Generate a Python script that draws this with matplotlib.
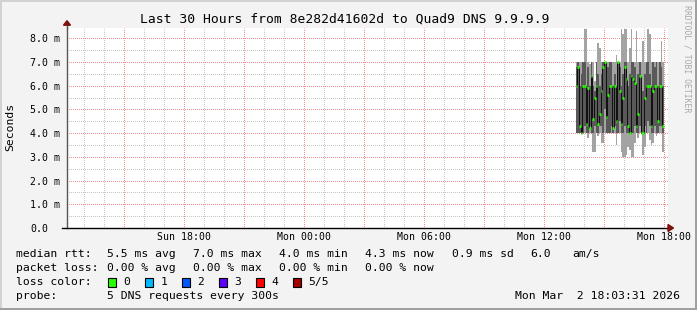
import matplotlib
matplotlib.use('Agg')
import matplotlib.pyplot as plt
import numpy as np
from matplotlib.patches import Rectangle, Polygon
from matplotlib.ticker import MultipleLocator

# ---------------- data ----------------
step_hours = 5 / 60.0
start_hour = 13 + 35 / 60.0          # Mon 13:35 (hours relative to Mon 00:00)

median_ms = [6.0, 6.8, 4.3, 4.0, 6.0, 6.0, 4.4, 5.9, 4.2, 6.4,
             4.6, 5.5, 6.0, 4.4, 4.8, 5.8, 6.8, 7.0, 4.7, 5.6,
             6.0, 6.0, 4.2, 6.0, 4.5, 7.0, 5.8, 4.4, 5.5, 6.8,
             6.3, 4.3, 4.0, 6.4, 6.3, 6.1, 4.3, 4.8, 6.4, 4.0,
             4.0, 5.5, 6.0, 6.0, 6.0, 4.3, 5.8, 6.0, 6.0, 4.5,
             6.0, 6.0, 4.3]
max_ms = [7.0, 7.0, 7.0, 7.0, 7.0, 8.4, 8.4, 7.0, 6.9, 7.0,
          7.0, 6.2, 7.0, 7.8, 7.6, 7.0, 7.0, 7.0, 7.0, 7.0,
          7.0, 7.0, 7.0, 7.0, 7.3, 7.0, 7.0, 8.4, 8.2, 8.4,
          8.4, 7.0, 7.6, 8.4, 7.0, 7.0, 8.3, 7.0, 7.0, 7.0,
          7.9, 7.0, 7.0, 8.4, 8.2, 7.0, 7.0, 7.0, 7.0, 7.0,
          7.0, 7.9, 7.0]
min_ms = [4.0, 4.0, 4.0, 4.0, 4.0, 4.0, 4.0, 3.8, 4.0, 4.0,
          3.2, 3.2, 4.0, 3.9, 4.0, 3.6, 3.6, 4.0, 4.0, 4.0,
          4.0, 4.0, 4.0, 4.0, 3.5, 4.0, 4.0, 3.2, 3.0, 3.0,
          3.1, 3.4, 3.3, 3.0, 3.0, 3.6, 4.0, 3.8, 4.0, 4.0,
          3.1, 3.4, 4.0, 4.0, 3.7, 3.5, 3.6, 4.0, 3.9, 4.0,
          4.0, 4.0, 3.2]
lo_ms = [4.0, 4.0, 4.0, 4.0, 4.0, 4.3, 4.0, 4.0, 4.3, 4.0,
         4.0, 4.3, 4.0, 4.0, 4.3, 4.3, 4.0, 5.0, 4.0, 4.0,
         4.0, 4.3, 4.0, 4.3, 4.0, 4.0, 4.5, 4.0, 4.0, 4.3,
         4.0, 4.0, 4.0, 4.3, 4.0, 4.3, 4.0, 4.0, 4.3, 4.0,
         4.0, 4.3, 4.0, 4.5, 4.3, 4.0, 4.0, 4.3, 4.0, 4.0,
         4.3, 4.3, 4.0]
hi_ms = [6.8, 7.0, 6.0, 6.5, 7.0, 7.0, 6.0, 6.8, 6.0, 7.0,
         6.0, 5.8, 7.0, 6.5, 6.0, 6.5, 7.0, 7.0, 6.0, 6.8,
         7.0, 7.0, 6.0, 6.5, 6.0, 7.0, 6.8, 6.0, 6.5, 7.0,
         7.0, 6.0, 6.5, 7.0, 7.0, 6.8, 6.0, 6.5, 7.0, 6.0,
         5.8, 6.5, 7.0, 7.0, 6.5, 6.0, 7.0, 6.8, 7.0, 6.0,
         7.0, 6.8, 6.0]

x_label_hours = [-6, 0, 6, 12, 18]
x_tick_labels = ['Sun 18:00', 'Mon 00:00', 'Mon 06:00', 'Mon 12:00', 'Mon 18:00']
y_ticks = [0, 1, 2, 3, 4, 5, 6, 7, 8]
y_tick_labels = ['0.0', '1.0 m', '2.0 m', '3.0 m', '4.0 m', '5.0 m', '6.0 m', '7.0 m', '8.0 m']

title = 'Last 30 Hours from 8e282d41602d to Quad9 DNS 9.9.9.9'
rtt_items = ['5.5 ms avg', '7.0 ms max', '4.0 ms min', '4.3 ms now', '0.9 ms sd', '6.0', 'am/s']
loss_items = ['0.00 % avg', '0.00 % max', '0.00 % min', '0.00 % now']
loss_labels = ['0', '1', '2', '3', '4', '5/5']
loss_colors = ['#26ff00', '#00b8ff', '#0059ff', '#5e00ff', '#ff0000', '#a10000']
probe_text = '5 DNS requests every 300s'
date_text = 'Mon Mar  2 18:03:31 2026'

# ---------------- layout ----------------
W, H = 697, 310
DPI = 100
MONO = 'DejaVu Sans Mono'

fig = plt.figure(figsize=(W / DPI, H / DPI), dpi=DPI)
fig.patch.set_facecolor('#f3f3f3')

def fx(x):
    return x / W

def fy(y):
    return 1 - y / H

# frame
fig.add_artist(Rectangle((0, 0), 1, 2 / H, transform=fig.transFigure, color='#a0a0a0', lw=0))
fig.add_artist(Rectangle((1 - 2 / W, 0), 2 / W, 1, transform=fig.transFigure, color='#a0a0a0', lw=0))
fig.add_artist(Rectangle((0, 1 - 2 / H), 1 - 2 / W, 2 / H, transform=fig.transFigure, color='#d2d2d2', lw=0))
fig.add_artist(Rectangle((0, 2 / H), 2 / W, 1 - 4 / H, transform=fig.transFigure, color='#d2d2d2', lw=0))

ax_l, ax_r, ax_t, ax_b = 67, 668, 27.7, 228
ax = fig.add_axes([fx(ax_l), fy(ax_b), (ax_r - ax_l) / W, (ax_b - ax_t) / H])
ax.set_facecolor('white')
ax.set_xlim(-11.85, 18.2)
ax.set_ylim(0, 8.45)

for s in ['top', 'right', 'bottom']:
    ax.spines[s].set_visible(False)
ax.spines['left'].set_color('#555555')
ax.spines['left'].set_linewidth(1.0)

# grid (1px dots)
ax.xaxis.set_minor_locator(MultipleLocator(1))
ax.yaxis.set_minor_locator(MultipleLocator(0.5))
ax.grid(which='minor', color='#c6c6c6', linestyle=(0.5, (1, 1)), linewidth=0.72)
ax.grid(which='major', color='#f38e8e', linestyle=(0.5, (1, 1)), linewidth=0.72)
ax.set_axisbelow(True)

major_x = np.arange(-9, 19, 3)
ax.set_xticks(major_x)
ax.set_xticklabels([x_tick_labels[x_label_hours.index(h)] if h in x_label_hours else '' for h in major_x],
                   fontfamily=MONO, fontsize=7.1)
ax.set_yticks(y_ticks)
ax.set_yticklabels(y_tick_labels, fontfamily=MONO, fontsize=7.1, ha='left')
ax.tick_params(axis='x', which='both', length=0, pad=3)
ax.tick_params(axis='y', which='both', length=0, pad=26.6)

# data
n = len(median_ms)
t = start_hour + np.arange(n) * step_hours
mn = np.array(min_ms); mx = np.array(max_ms)
lo = np.array(lo_ms); hi = np.array(hi_ms)
md = np.array(median_ms)
ax.bar(t, mx - mn, bottom=mn, width=step_hours, align='edge', color='#a3a3a3', linewidth=0, zorder=2)
ax.bar(t, hi - lo, bottom=lo, width=step_hours, align='edge', color='#595959', linewidth=0, zorder=3)
ax.vlines(t[1:], md[:-1], md[1:], color='#111111', linewidth=0.72, zorder=4)
ax.hlines(md, t, t + step_hours, color=loss_colors[0], linewidth=2.0, zorder=5)

# axis lines and arrows
ax.plot([-5 / 601, 1.0], [0, 0], transform=ax.transAxes, color='black', lw=1.0, clip_on=False, zorder=6)
ax.plot([0, 0], [1.0, 1.0 + 3 / 200.3], transform=ax.transAxes, color='#555555', lw=1.0, clip_on=False, zorder=6)
arrow_col = '#7f1010'
ax.add_patch(Polygon([[-3.5 / 601, 1 + 2.5 / 200.3], [3.5 / 601, 1 + 2.5 / 200.3], [0, 1 + 7 / 200.3]],
                     closed=True, transform=ax.transAxes, color=arrow_col, clip_on=False, zorder=7))
ax.add_patch(Polygon([[1.0, 3.5 / 200.3], [1.0, -3.5 / 200.3], [1 + 5.5 / 601, 0]],
                     closed=True, transform=ax.transAxes, color=arrow_col, clip_on=False, zorder=7))

# texts
fig.text(fx(345), fy(19.3), title, ha='center', va='center', fontfamily=MONO, fontsize=9.4, color='#000000')
fig.text(fx(10), fy(127), 'Seconds', rotation=90, ha='center', va='center', fontfamily=MONO, fontsize=8.2)
fig.text(fx(687), fy(5), 'RRDTOOL / TOBI OETIKER', rotation=270, ha='center', va='top',
         fontfamily=MONO, fontsize=5.9, color='#a8a8a8')

LS = 8.2
row_y = [254.3, 268.3, 282.0, 296.0]
fig.text(fx(16), fy(row_y[0]), 'median rtt:', ha='left', va='center', fontfamily=MONO, fontsize=LS)
rtt_x = [107.3, 193.3, 279.3, 365.0, 451.7, 530.0, 572.7]
for x, s in zip(rtt_x, rtt_items):
    fig.text(fx(x), fy(row_y[0]), s, ha='left', va='center', fontfamily=MONO, fontsize=LS)
fig.text(fx(16), fy(row_y[1]), 'packet loss:', ha='left', va='center', fontfamily=MONO, fontsize=LS)
for x, s in zip(rtt_x[:4], loss_items):
    fig.text(fx(x), fy(row_y[1]), s, ha='left', va='center', fontfamily=MONO, fontsize=LS)
fig.text(fx(16), fy(row_y[2]), 'loss color:', ha='left', va='center', fontfamily=MONO, fontsize=LS)
for i, (lab, col) in enumerate(zip(loss_labels, loss_colors)):
    bx = 108.3 + i * 37.0
    fig.add_artist(Rectangle((fx(bx), fy(287)), 7.7 / W, 9.5 / H, transform=fig.transFigure,
                             facecolor=col, edgecolor='black', lw=0.8))
    fig.text(fx(bx + 15), fy(row_y[2]), lab, ha='left', va='center', fontfamily=MONO, fontsize=LS)
fig.text(fx(16), fy(row_y[3]), 'probe:', ha='left', va='center', fontfamily=MONO, fontsize=LS)
fig.text(fx(107.3), fy(row_y[3]), probe_text, ha='left', va='center', fontfamily=MONO, fontsize=LS)
fig.text(fx(680), fy(row_y[3]), date_text, ha='right', va='center', fontfamily=MONO, fontsize=LS)

fig.savefig('out.png', dpi=DPI, facecolor=fig.get_facecolor())
